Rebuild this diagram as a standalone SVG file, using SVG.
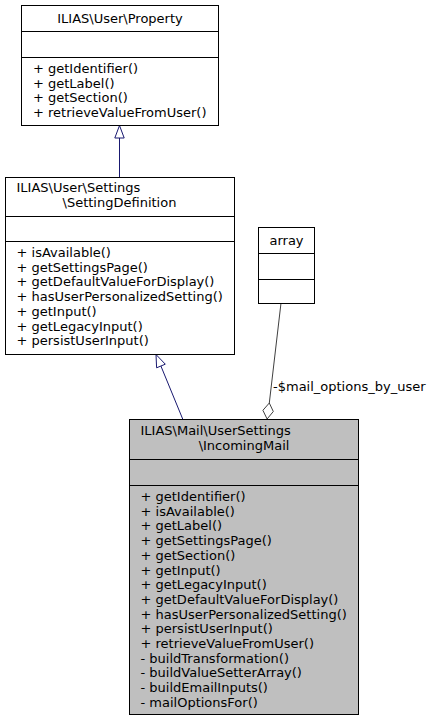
<svg xmlns="http://www.w3.org/2000/svg" width="435" height="721" viewBox="0 0 435 721">
<style>
text{font-family:"DejaVu Sans",sans-serif;font-size:13px;fill:#000}
.box{fill:#fff;stroke:#000;stroke-width:1}
.cur{fill:#bfbfbf;stroke:#000;stroke-width:1}
.sep{stroke:#000;stroke-width:1}
.c{text-anchor:middle}
.inh{stroke:#191970;stroke-width:1;fill:none}
.inhh{stroke:#191970;stroke-width:1;fill:#fff}
.agg{stroke:#404040;stroke-width:1;fill:none}
.aggh{stroke:#404040;stroke-width:1;fill:#fff}
</style>
<rect width="435" height="721" fill="#fff"/>
<g id="connectors">
  <line class="inh" x1="119.5" y1="177" x2="119.5" y2="138"/>
  <polygon class="inhh" points="119.5,125.5 124.2,138 114.8,138"/>
  <line class="inh" x1="182.7" y1="419" x2="160.9" y2="366"/>
  <polygon class="inhh" points="156,354.5 165.3,364.2 156.6,367.8"/>
  <line class="agg" x1="281" y1="303" x2="269.3" y2="403"/>
  <polygon class="aggh" points="269.3,403 273.3,411.5 267.1,419 262.9,410.3"/>
  <text x="273" y="391">-$mail_options_by_user</text>
</g>
<g id="property">
  <rect class="box" x="21.5" y="5.5" width="197" height="120"/>
  <line class="sep" x1="21.5" y1="31.5" x2="218.5" y2="31.5"/>
  <line class="sep" x1="21.5" y1="57.5" x2="218.5" y2="57.5"/>
  <text class="c" x="120" y="22.5">ILIAS\User\Property</text>
  <text x="33" y="73">+ getIdentifier()</text>
  <text x="33" y="87.5">+ getLabel()</text>
  <text x="33" y="102">+ getSection()</text>
  <text x="33" y="116.5">+ retrieveValueFromUser()</text>
</g>
<g id="settingdefinition">
  <rect class="box" x="5.5" y="177.5" width="229" height="177"/>
  <line class="sep" x1="5.5" y1="216.5" x2="234.5" y2="216.5"/>
  <line class="sep" x1="5.5" y1="241.5" x2="234.5" y2="241.5"/>
  <text x="16.5" y="192">ILIAS\User\Settings</text>
  <text class="c" x="119.5" y="206.5">\SettingDefinition</text>
  <text x="16.5" y="257">+ isAvailable()</text>
  <text x="16.5" y="271.7">+ getSettingsPage()</text>
  <text x="16.5" y="286.4">+ getDefaultValueForDisplay()</text>
  <text x="16.5" y="301.1">+ hasUserPersonalizedSetting()</text>
  <text x="16.5" y="315.8">+ getInput()</text>
  <text x="16.5" y="330.5">+ getLegacyInput()</text>
  <text x="16.5" y="345.2">+ persistUserInput()</text>
</g>
<g id="array">
  <rect class="box" x="258.5" y="227.5" width="56" height="76"/>
  <line class="sep" x1="258.5" y1="253.5" x2="314.5" y2="253.5"/>
  <line class="sep" x1="258.5" y1="279.5" x2="314.5" y2="279.5"/>
  <text class="c" x="286.5" y="244.5">array</text>
</g>
<g id="incomingmail">
  <rect class="cur" x="129.5" y="419.5" width="229" height="295"/>
  <line class="sep" x1="129.5" y1="459.5" x2="358.5" y2="459.5"/>
  <line class="sep" x1="129.5" y1="485.5" x2="358.5" y2="485.5"/>
  <text x="140.5" y="435">ILIAS\Mail\UserSettings</text>
  <text class="c" x="244" y="449.5">\IncomingMail</text>
  <text x="140.5" y="501">+ getIdentifier()</text>
  <text x="140.5" y="515.7">+ isAvailable()</text>
  <text x="140.5" y="530.4">+ getLabel()</text>
  <text x="140.5" y="545.1">+ getSettingsPage()</text>
  <text x="140.5" y="559.8">+ getSection()</text>
  <text x="140.5" y="574.5">+ getInput()</text>
  <text x="140.5" y="589.2">+ getLegacyInput()</text>
  <text x="140.5" y="603.9">+ getDefaultValueForDisplay()</text>
  <text x="140.5" y="618.6">+ hasUserPersonalizedSetting()</text>
  <text x="140.5" y="633.3">+ persistUserInput()</text>
  <text x="140.5" y="648">+ retrieveValueFromUser()</text>
  <text x="140.5" y="662.7">- buildTransformation()</text>
  <text x="140.5" y="677.4">- buildValueSetterArray()</text>
  <text x="140.5" y="692.1">- buildEmailInputs()</text>
  <text x="140.5" y="706.8">- mailOptionsFor()</text>
</g>
</svg>
